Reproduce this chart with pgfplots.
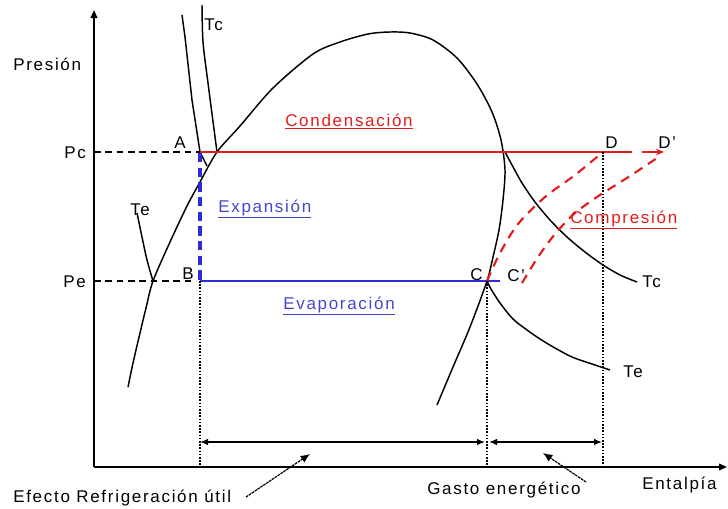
\documentclass[border=0pt]{standalone}
\usepackage{pgfplots}
\pgfplotsset{compat=1.18}
\usetikzlibrary{arrows.meta}
\usepackage{fontspec}
\setmainfont{Liberation Sans}[LetterSpace=10]
\definecolor{cyclered}{RGB}{228,28,28}
\definecolor{cycleblue}{RGB}{45,45,215}
\definecolor{labelblue}{RGB}{70,70,205}

\begin{document}
\begin{tikzpicture}[font=\fontsize{12.75}{15}\selectfont]
\begin{axis}[width=546pt, height=381pt, scale only axis,
  xmin=0, xmax=728, ymin=0, ymax=508, y dir=reverse,
  hide axis, clip=false]
\path (axis cs:0,0) rectangle (axis cs:728,508);

% coordinate axes (pressure vs. enthalpy)
\addplot[black, line width=1.2pt, -{Triangle[length=6pt,width=5pt]}] coordinates {(94,467) (94,10)};
\addplot[black, line width=1.2pt, -{Triangle[length=6pt,width=5pt]}] coordinates {(94,467) (727,467)};

% saturation dome
\addplot[black, line width=1.1pt, smooth] coordinates {
 (128,387) (133,363) (140,333) (146,308) (153,281) (170,242) (187,206)
 (200,182) (217,152) (240,126) (273,88) (313,54) (340,42) (368,34)
 (390,32) (410,33) (433,40) (457,58) (477,84) (492,112) (501,140)
 (505,170) (503,200) (499,230) (493,257) (487,281) (470,327) (453,367) (437,405)};

% condensation isotherm Tc
\addplot[black, line width=1.1pt, smooth] coordinates {
 (202,5) (203,42) (208,83) (217,152)};
\addplot[black, line width=1.1pt, smooth] coordinates {
 (505,152) (512,165) (522,183) (535,202) (550,220) (567,237) (585,252)
 (603,265) (620,275) (637,282)};
% subcooled isotherm through A
\addplot[black, line width=1.1pt] coordinates {
 (182,15) (185,37) (192,100) (200,152) (207,166)};

% evaporation isotherm Te
\addplot[black, line width=1.1pt, smooth] coordinates {
 (137,213) (142,237) (147,260) (153,281)};
\addplot[black, line width=1.1pt, smooth] coordinates {
 (487,281) (491,289) (500,303) (513,319) (527,330) (540,339) (555,348)
 (572,357) (592,364) (610,370)};

% pressure levels
\addplot[black, line width=1.1pt, dash pattern=on 5pt off 3.5pt] coordinates {(94,152) (200,152)};
\addplot[black, line width=1.1pt, dash pattern=on 5pt off 3.5pt] coordinates {(94,281) (196,281)};

% condensation (red) and evaporation (blue)
\addplot[cyclered, line width=1.1pt] coordinates {(200,152) (632,152)};
\addplot[cyclered, line width=1.1pt, -{Stealth[length=6pt,width=5pt]}] coordinates {(642,152) (664,152)};
\addplot[cycleblue, line width=1.1pt] coordinates {(200,281) (500,281)};

% expansion A -> B
\addplot[cycleblue, line width=3pt, dash pattern=on 7pt off 4pt] coordinates {(200,153) (200,281)};

% compression C -> D and C' -> D'
\addplot[cyclered, line width=1.6pt, smooth, dash pattern=on 7pt off 5pt] coordinates {
 (487,281) (500,253) (518,224) (545,197) (575,175) (603,152)};
\addplot[cyclered, line width=1.6pt, smooth, dash pattern=on 7pt off 5pt] coordinates {
 (522,283) (538,257) (555,234) (575,213) (600,195) (630,176) (660,156)};

% enthalpy projections
\addplot[black, line width=1.1pt, dash pattern=on 1.2pt off 1.2pt] coordinates {(200,281) (200,467)};
\addplot[black, line width=1.1pt, dash pattern=on 1.2pt off 1.2pt] coordinates {(487,281) (487,467)};
\addplot[black, line width=1.1pt, dash pattern=on 1.2pt off 1.2pt] coordinates {(603,152) (603,467)};

% dimension arrows
\addplot[black, line width=1.1pt, {Latex[length=6pt,width=5pt]}-{Latex[length=6pt,width=5pt]}] coordinates {(200,442) (485,442)};
\addplot[black, line width=1.1pt, {Latex[length=6pt,width=5pt]}-{Latex[length=6pt,width=5pt]}] coordinates {(489,442) (602,442)};

% callout pointers
\addplot[black, line width=0.9pt, dash pattern=on 2pt off 0.6pt, -{Latex[length=7pt,width=6pt]}] coordinates {(246,497) (310,454)};
\addplot[black, line width=0.9pt, dash pattern=on 2pt off 0.6pt, -{Latex[length=7pt,width=6pt]}] coordinates {(586,482) (543,453)};

% labels
\node[anchor=base west, inner sep=0pt] at (axis cs:13,70) {Presión};
\node[anchor=base west, inner sep=0pt] at (axis cs:64,158) {Pc};
\node[anchor=base west, inner sep=0pt] at (axis cs:63,287) {Pe};
\node[anchor=base west, inner sep=0pt] at (axis cs:174,148) {A};
\node[anchor=base west, inner sep=0pt] at (axis cs:182,279) {B};
\node[anchor=base west, inner sep=0pt] at (axis cs:470,280) {C};
\node[anchor=base west, inner sep=0pt] at (axis cs:507,281) {C'};
\node[anchor=base west, inner sep=0pt] at (axis cs:605,148) {D};
\node[anchor=base west, inner sep=0pt] at (axis cs:658,148) {D'};
\node[anchor=base west, inner sep=0pt] at (axis cs:204,30) {Tc};
\node[anchor=base west, inner sep=0pt] at (axis cs:642,287) {Tc};
\node[anchor=base west, inner sep=0pt] at (axis cs:130,215) {Te};
\node[anchor=base west, inner sep=0pt] at (axis cs:623,377) {Te};

\node[anchor=base west, inner sep=0pt, text=cyclered] at (axis cs:285,126) {\underline{Condensación}};
\node[anchor=base west, inner sep=0pt, text=labelblue] at (axis cs:218,212) {\underline{Expansión}};
\node[anchor=base west, inner sep=0pt, text=labelblue] at (axis cs:283,309) {\underline{Evaporación}};
\node[anchor=base west, inner sep=0pt, text=cyclered] at (axis cs:570,223) {\underline{Compresión}};

\node[anchor=base west, inner sep=0pt] at (axis cs:13,502) {Efecto Refrigeración útil};
\node[anchor=base west, inner sep=0pt] at (axis cs:427,494) {Gasto energético};
\node[anchor=base west, inner sep=0pt] at (axis cs:642,489) {Entalpía};
\end{axis}
\end{tikzpicture}
\end{document}
